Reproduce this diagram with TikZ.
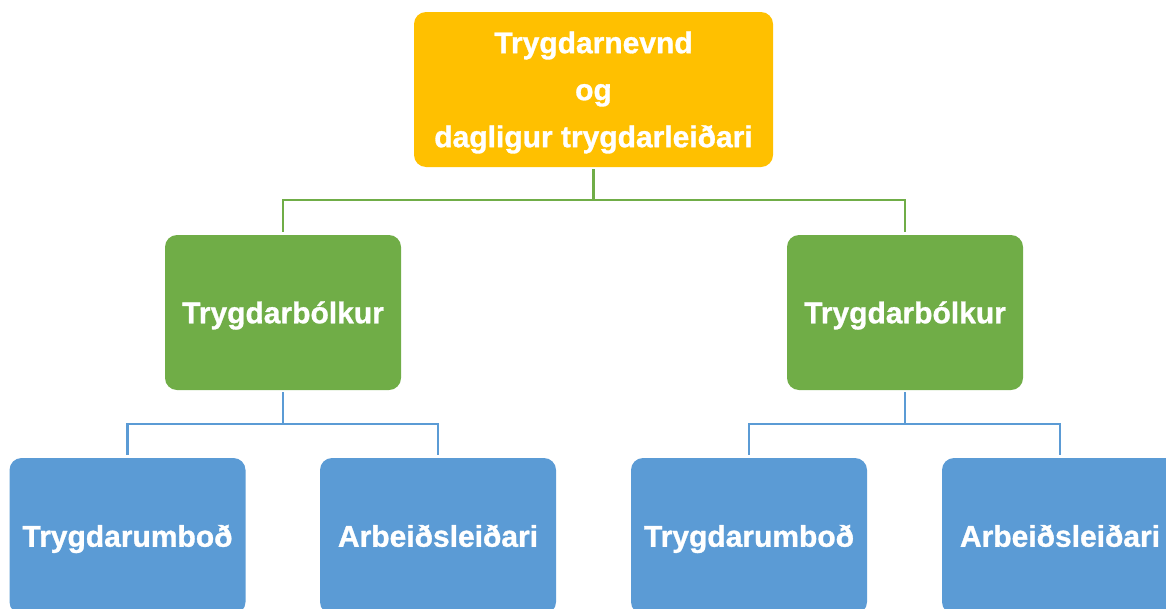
\documentclass[tikz,border=0pt]{standalone}
\usepackage{fontspec}
\setmainfont{Liberation Sans}[BoldFeatures={FakeBold=1}]
\definecolor{orgc}{HTML}{FFC000}
\definecolor{grnc}{HTML}{70AD47}
\definecolor{bluc}{HTML}{5B9BD5}
\begin{document}
\begin{tikzpicture}[x=1pt,y=-1pt,
  boxstyle/.style={rounded corners=12pt, inner sep=0pt, text=white, align=center,
    font=\fontsize{30}{47}\selectfont\bfseries},
  onelinebox/.style={boxstyle, text height=21.5pt, text depth=0pt},
  topbox/.style={boxstyle, fill=orgc, minimum width=359pt, minimum height=155pt},
  grnbox/.style={onelinebox, fill=grnc, minimum width=236pt, minimum height=155pt},
  blubox/.style={onelinebox, fill=bluc, minimum width=236pt, minimum height=156pt},
  gline/.style={draw=grnc, line width=2.5pt, shorten <=2pt, shorten >=3pt},
  bline/.style={draw=bluc, line width=2.5pt, shorten <=2pt, shorten >=3pt}]
\useasboundingbox (0,0) rectangle (1166,608);
\node[topbox] (top) at (593.5,89.5) {};
\node[boxstyle, anchor=center] (toptext) at (593.5,92.5) {Trygdarnevnd\\og\\dagligur trygdarleiðari};
\node[grnbox] (g1) at (283,312.5) {Trygdarbólkur};
\node[grnbox] (g2) at (905,312.5) {Trygdarbólkur};
\node[blubox] (b1) at (127.5,536) {Trygdarumboð};
\node[blubox] (b2) at (438,536) {Arbeiðsleiðari};
\node[blubox] (b3) at (749,536) {Trygdarumboð};
\node[blubox] (b4) at (1060,536) {Arbeiðsleiðari};
\coordinate (j0) at (593.5,200);
\coordinate (j1) at (283,424);
\coordinate (j2) at (905,424);
\draw[gline, shorten >=0pt] (top.south) -- (j0);
\draw[gline, shorten <=0pt] (j0) -| (g1.north);
\draw[gline, shorten <=0pt] (j0) -| (g2.north);
\draw[bline, shorten >=0pt] (g1.south) -- (j1);
\draw[bline, shorten <=0pt] (j1) -| (b1.north);
\draw[bline, shorten <=0pt] (j1) -| (b2.north);
\draw[bline, shorten >=0pt] (g2.south) -- (j2);
\draw[bline, shorten <=0pt] (j2) -| (b3.north);
\draw[bline, shorten <=0pt] (j2) -| (b4.north);
\end{tikzpicture}
\end{document}
